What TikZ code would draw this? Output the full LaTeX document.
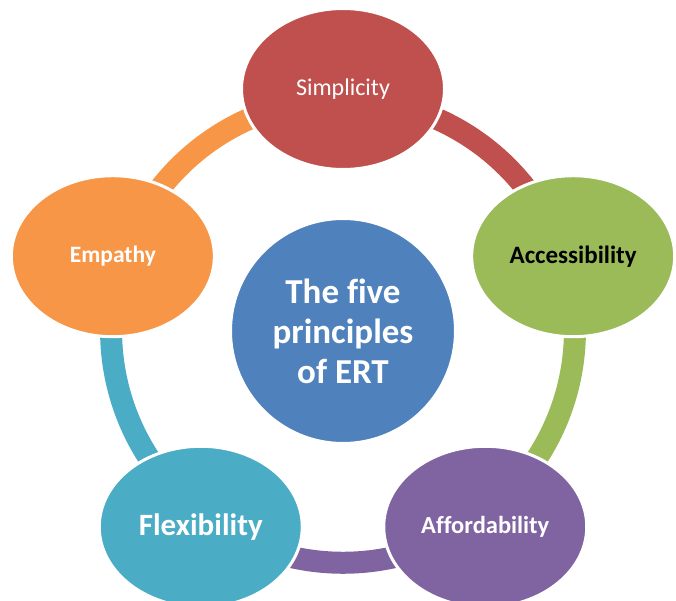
\documentclass[tikz,border=0pt]{standalone}
\usepackage{fontspec}
\setmainfont{Carlito}[Ligatures=CommonOff]
\usetikzlibrary{shapes.geometric,calc}
\definecolor{simpred}{HTML}{C0504D}
\definecolor{accgreen}{HTML}{9BBB59}
\definecolor{affpurple}{HTML}{8064A2}
\definecolor{flexteal}{HTML}{4BACC6}
\definecolor{emporange}{HTML}{F79646}
\definecolor{ertblue}{HTML}{4F81BD}

\begin{document}
\begin{tikzpicture}[x=1pt,y=1pt,
  petal/.style={ellipse, draw=white, line width=3pt, minimum width=203pt, minimum height=161pt, inner sep=0pt, text=white, font=\bfseries\fontsize{24}{28}\selectfont},
  ring/.style={line width=22pt}]
  \useasboundingbox (0,0) rectangle (676,600);
  %coordinates
  \coordinate (c) at (343,269);
  \coordinate (r1) at ($(c)+(90:232)$);
  \coordinate (r2) at ($(c)+(18:232)$);
  \coordinate (r3) at ($(c)+(-54:232)$);
  \coordinate (r4) at ($(c)+(-126:232)$);
  \coordinate (r5) at ($(c)+(162:232)$);
  % Edges (under the nodes)
  \draw[ring, simpred] (r1) to[bend left=36, looseness=0.94] (r2);
  \draw[ring, accgreen] (r2) to[bend left=36, looseness=0.94] (r3);
  \draw[ring, affpurple] (r3) to[bend left=36, looseness=0.94] (r4);
  \draw[ring, flexteal] (r4) to[bend left=36, looseness=0.94] (r5);
  \draw[ring, emporange] (r5) to[bend left=36, looseness=0.94] (r1);
  % Nodes
  \node[circle, fill=ertblue, draw=white, line width=3pt, minimum size=225pt, text=white, align=center, font=\bfseries\fontsize{35}{40}\selectfont](ert) at (c) {The five\\principles\\of ERT};
  \node[petal, fill=simpred, font=\fontsize{24}{28}\selectfont](simp) at ($(c)+(90:242)$) {Simplicity};
  \node[petal, fill=accgreen, text=black, font=\bfseries\fontsize{25}{28}\selectfont](acc) at ($(c)+(18:242)$) {Accessibility};
  \node[petal, fill=affpurple, font=\bfseries\fontsize{24.5}{28}\selectfont](aff) at ($(c)+(-54:242)$) {Affordability};
  \node[petal, fill=flexteal, font=\bfseries\fontsize{31}{34}\selectfont](flex) at ($(c)+(-126:242)$) {Flexibility};
  \node[petal, fill=emporange, font=\bfseries\fontsize{23.5}{28}\selectfont](emp) at ($(c)+(162:242)$) {Empathy};
\end{tikzpicture}
\end{document}
